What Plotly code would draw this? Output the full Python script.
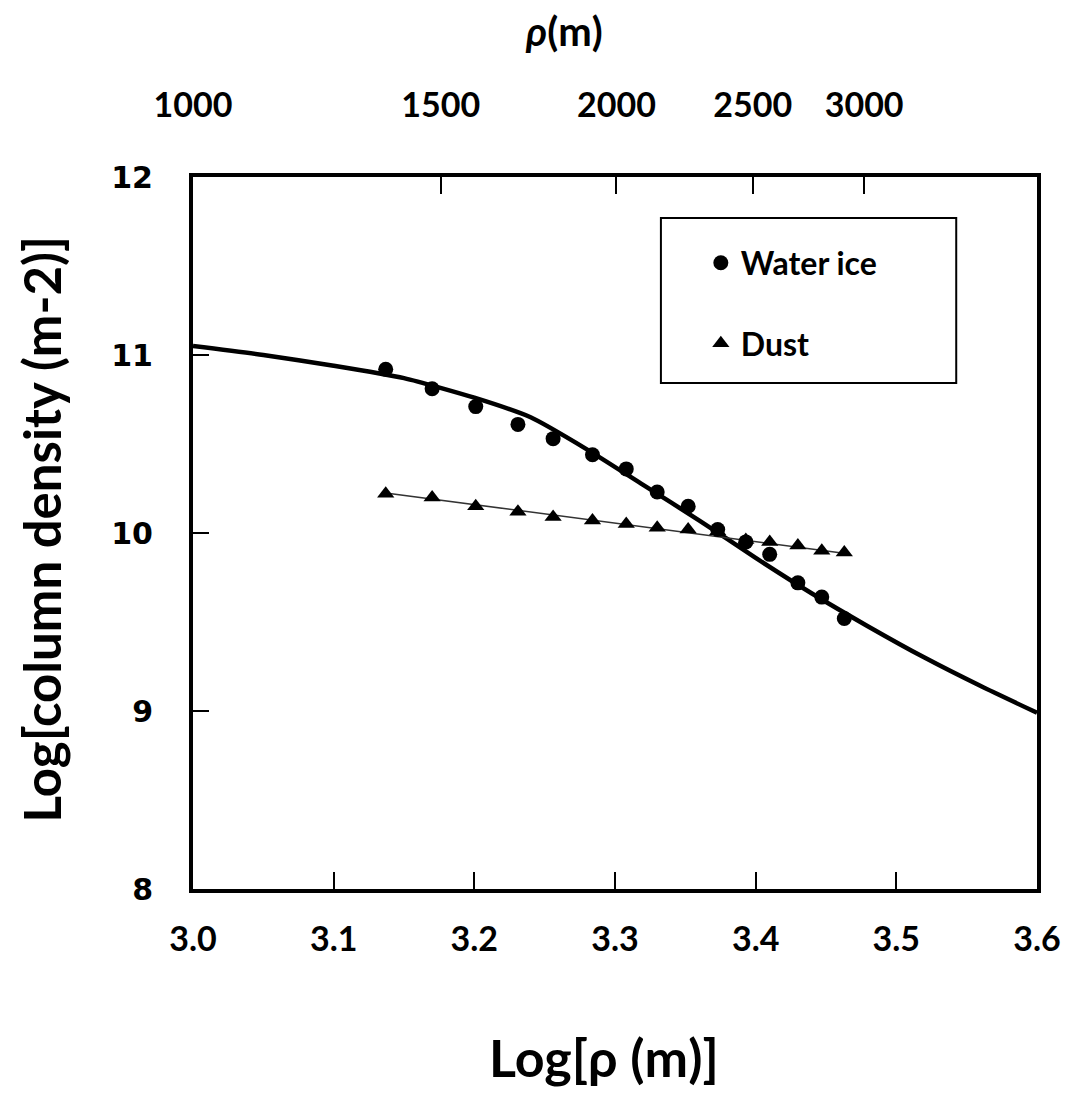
import numpy as np
import plotly.graph_objects as go

# ---- data ----
log_rho = [3.137, 3.170, 3.201, 3.231, 3.256, 3.284, 3.308, 3.330, 3.352,
           3.373, 3.393, 3.410, 3.430, 3.447, 3.463]
water_ice = [10.92, 10.81, 10.71, 10.61, 10.53, 10.44, 10.36, 10.23, 10.15,
             10.02, 9.95, 9.88, 9.72, 9.64, 9.52]
dust = [10.22, 10.20, 10.15, 10.12, 10.09, 10.07, 10.05, 10.03, 10.02,
        10.01, 9.96, 9.95, 9.93, 9.90, 9.89]

model_x = [3.00, 3.05, 3.10, 3.15, 3.20, 3.24, 3.28, 3.32, 3.36, 3.40,
           3.44, 3.48, 3.52, 3.56, 3.60]
model_y = [11.05, 11.00, 10.94, 10.87, 10.76, 10.65, 10.47, 10.27, 10.07,
           9.86, 9.66, 9.475, 9.30, 9.14, 8.99]

dust_fit_x = [3.137, 3.464]
dust_fit_y = [10.225, 9.885]

top_ticks_m = [1000, 1500, 2000, 2500, 3000]
y_ticks = [8, 9, 10, 11, 12]
x_ticks = [3.0, 3.1, 3.2, 3.3, 3.4, 3.5, 3.6]

FONT = "Lato"

fig = go.Figure()

fig.add_trace(go.Scatter(x=model_x, y=model_y, mode="lines",
                         line=dict(color="black", width=4.5, shape="spline", smoothing=0.6),
                         showlegend=False, hoverinfo="skip"))
fig.add_trace(go.Scatter(x=dust_fit_x, y=dust_fit_y, mode="lines",
                         line=dict(color="#333333", width=1.6),
                         showlegend=False, hoverinfo="skip"))
fig.add_trace(go.Scatter(x=log_rho, y=water_ice, mode="markers", name="Water ice",
                         marker=dict(symbol="circle", size=15, color="black"),
                         legendgroup="a"))
fig.add_trace(go.Scatter(x=log_rho, y=dust, mode="markers", name="Dust",
                         marker=dict(symbol="triangle-up", size=15, color="black"),
                         legendgroup="b"))
# anchor trace for the top rho axis
fig.add_trace(go.Scatter(x=[3.0, 3.6], y=[None, None], xaxis="x2", mode="lines",
                         showlegend=False, hoverinfo="skip"))

fig.update_layout(
    width=1073, height=1101,
    margin=dict(l=193, r=34, t=177, b=212),
    paper_bgcolor="white", plot_bgcolor="white",
    showlegend=True,
    legend=dict(x=0.6017, y=0.918, xanchor="left", yanchor="top",
                bgcolor="rgba(0,0,0,0)", borderwidth=0,
                font=dict(family=FONT, size=32, color="black", weight="bold"),
                tracegroupgap=36, traceorder="grouped"),
    xaxis=dict(range=[3.0, 3.6], tickvals=x_ticks,
               ticktext=[f"{v:.1f}" for v in x_ticks],
               ticks="inside", ticklen=17, tickwidth=2, tickcolor="black",
               showline=True, linewidth=4, linecolor="black", mirror=True,
               showgrid=False, zeroline=False,
               tickfont=dict(family=FONT, size=34, color="black", weight="bold"),
               ticklabelstandoff=17),
    xaxis2=dict(range=[3.0, 3.6], overlaying="x", side="top", anchor="y",
                tickvals=[float(np.log10(v)) for v in top_ticks_m],
                ticktext=[str(v) for v in top_ticks_m],
                ticks="inside", ticklen=17, tickwidth=2, tickcolor="black",
                showline=False, showgrid=False, zeroline=False,
                tickfont=dict(family=FONT, size=34, color="black", weight="bold"),
                ticklabelstandoff=52),
    yaxis=dict(range=[8, 12], tickvals=y_ticks,
               ticks="inside", ticklen=16, tickwidth=2, tickcolor="black",
               showline=True, linewidth=4, linecolor="black", mirror=True,
               showgrid=False, zeroline=False,
               tickfont=dict(family="DejaVu Sans", size=30, color="black", weight="bold"),
               ticklabelstandoff=30),
    shapes=[dict(type="rect", xref="paper", yref="paper",
                 x0=0.5544, x1=0.9043, y0=0.7107, y1=0.9424,
                 line=dict(color="black", width=2), fillcolor="rgba(0,0,0,0)")],
    annotations=[
        dict(text="<i>ρ</i>(m)", xref="paper", yref="paper",
             x=0.44, y=1.205, xanchor="center", yanchor="middle", showarrow=False,
             font=dict(family=FONT, size=40, color="black", weight="bold")),
        dict(text="Log[ρ (m)]", xref="paper", yref="paper",
             x=0.487, y=-0.236, xanchor="center", yanchor="middle", showarrow=False,
             font=dict(family=FONT, size=52, color="black", weight="bold")),
        dict(text="Log[column density (m-2)]", xref="paper", yref="paper",
             x=-0.18, y=0.505, xanchor="center", yanchor="middle", showarrow=False,
             textangle=-90,
             font=dict(family=FONT, size=51, color="black", weight="bold")),
    ],
)

fig.write_html("out.html")
